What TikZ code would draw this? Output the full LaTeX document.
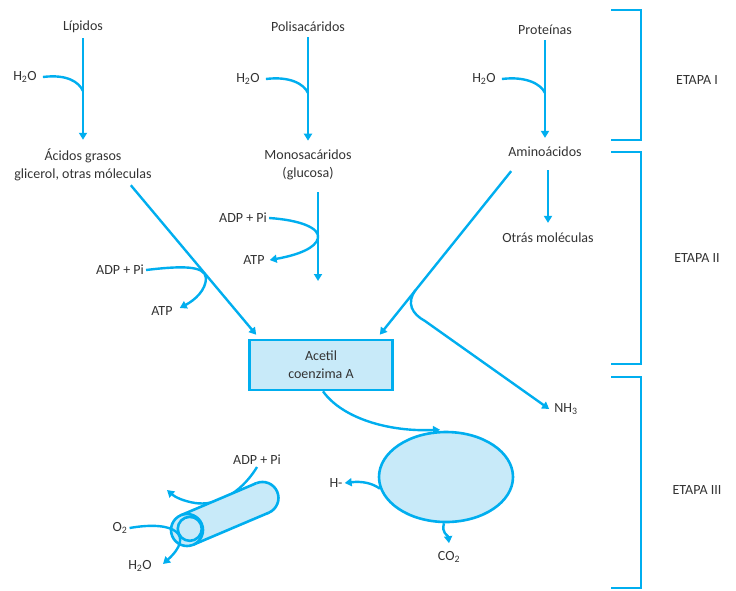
\documentclass[tikz,border=0pt]{standalone}
\usepackage{fontspec}
\setmainfont{Carlito}
\usetikzlibrary{arrows.meta,shapes.geometric}
\definecolor{cyanline}{HTML}{00AEEF}
\definecolor{cyanfill}{HTML}{C8EAF9}
\definecolor{txt}{HTML}{333333}

\begin{document}
\begin{tikzpicture}[x=1pt,y=-1pt,
  every node/.style={text=txt,font=\fontsize{14}{18}\selectfont,inner sep=2pt},
  flow/.style={draw=cyanline,line width=2.4pt,-{Triangle[length=7pt,width=8pt]}},
  hookline/.style={draw=cyanline,line width=2.4pt},
  brk/.style={draw=cyanline,line width=2.6pt},
  acbox/.style={draw=cyanline,fill=cyanfill,line width=2.6pt,align=center,
    minimum width=143pt,minimum height=50pt},
  krebs/.style={ellipse,draw=cyanline,fill=cyanfill,line width=2.6pt,
    minimum width=134pt,minimum height=90pt,inner sep=0pt}]
\useasboundingbox (0,0) rectangle (736,590);

  \node (lip)  at (83,27)  {Lípidos};
  \node (wA)   at (25,77)  {H\textsubscript{2}O};
  \node[align=center] (acid) at (83,165) {Ácidos grasos\\glicerol, otras móleculas};
  \node (pol)  at (308,27) {Polisacáridos};
  \node (wB)   at (248,79) {H\textsubscript{2}O};
  \node[align=center] (mono) at (308,165) {Monosacáridos\\(glucosa)};
  \node (prot) at (545,30) {Proteínas};
  \node (wC)   at (484,79) {H\textsubscript{2}O};
  \node (amino) at (545,152) {Aminoácidos};
  \node (otr)  at (548,238) {Otrás moléculas};

  \node (adp1) at (243,218) {ADP + Pi};
  \node (atp1) at (254,260) {ATP};
  \node (adp2) at (120,270) {ADP + Pi};
  \node (atp2) at (162,311) {ATP};

  \node[acbox] (acet) at (321,365) {Acetil\\coenzima A};
  \node (nh)   at (566,409) {NH\textsubscript{3}};
  \node[krebs] (cyc) at (446,477) {};
  \node (hm)   at (336,483) {H-};
  \node (co)   at (449,557) {CO\textsubscript{2}};
  \node (adp3) at (257,460) {ADP + Pi};
  \node (o2)   at (120,528) {O\textsubscript{2}};
  \node (wD)   at (140,566) {H\textsubscript{2}O};

  \node (et1) at (697,80)  {ETAPA I};
  \node (et2) at (697,258) {ETAPA II};
  \node (et3) at (697,490) {ETAPA III};

  \coordinate (jA) at (83,91);
  \coordinate (jB) at (308,93);
  \coordinate (jC) at (545,93);
  \coordinate (gE) at (318,281);
  \coordinate (br) at (415.6,290);

  \draw[flow,shorten <=3pt,shorten >=7pt] (lip) -- (acid);
  \draw[hookline] ([xshift=4pt]wA.east) .. controls +(24,-3) and +(-4,-9) .. (jA);
  \draw[flow,shorten <=3pt,shorten >=7pt] (pol) -- (mono);
  \draw[hookline] ([xshift=4pt]wB.east) .. controls +(24,-3) and +(-4,-9) .. (jB);
  \draw[flow,shorten <=3pt,shorten >=7pt] (prot) -- (amino);
  \draw[hookline] ([xshift=4pt]wC.east) .. controls +(24,-3) and +(-4,-9) .. (jC);
  \draw[flow,shorten <=11pt,shorten >=8pt] (amino.south -| otr) -- (otr.north);

  \draw[flow] ([xshift=10pt,yshift=-10pt]mono.south) -- (gE);
  \draw[flow] (adp1.east) .. controls (300,220) and (320,228) .. (318,238)
    .. controls (316,248) and (298,255) .. ([xshift=3pt]atp1.east);
  \draw[flow] ([xshift=-23pt,yshift=-2pt]acid.south east) -- ([xshift=8pt,yshift=4pt]acet.north west);
  \draw[flow] (adp2.east) .. controls (180,266) and (205,265) .. (206,278)
    .. controls (206,290) and (195,300) .. ([xshift=5pt,yshift=3pt]atp2.east);

  \draw[flow] ([xshift=5pt,yshift=-12pt]amino.south west) -- ([xshift=-14pt,yshift=4pt]acet.north east);
  \draw[flow] (br) .. controls (406,303) and (412,314) .. (425,321) -- ([xshift=-3pt]nh.west);

  \draw[flow] ([xshift=2pt]acet.south) .. controls (342,418) and (388,432) .. ([xshift=-6pt,yshift=1pt]cyc.north);
  \draw[flow] (cyc.190) .. controls (372,483) and (362,481) .. (hm.east);
  \draw[flow] ([xshift=-2pt]cyc.south) .. controls +(-3,10) and +(-1,-8) .. ([yshift=6pt]co.north);

  \draw[flow] (adp3.south) .. controls (240,495) and (215,506) .. (195,503)
    .. controls (183,501) and (175,497) .. (167,490);
  \begin{scope}[shift={(187,530)},rotate=23,line width=2.6pt]
    \filldraw[draw=cyanline,fill=cyanfill] (82,0) circle[radius=16];
    \fill[cyanfill] (0,-16) rectangle (82,16);
    \draw[cyanline] (0,-16) -- (82,-16) (0,16) -- (82,16);
    \filldraw[draw=cyanline,fill=cyanfill] (0,0) circle[radius=16];
    \draw[cyanline] (3,0) circle[radius=12];
  \end{scope}
  \draw[flow] (o2.east) .. controls (175,520) and (195,535) .. (163,564);

  \draw[brk] (611,10) -- (641,10) -- (641,140) -- (611,140);
  \draw[brk] (611,152) -- (641,152) -- (641,364) -- (611,364);
  \draw[brk] (611,377) -- (641,377) -- (641,588) -- (611,588);
\end{tikzpicture}
\end{document}
